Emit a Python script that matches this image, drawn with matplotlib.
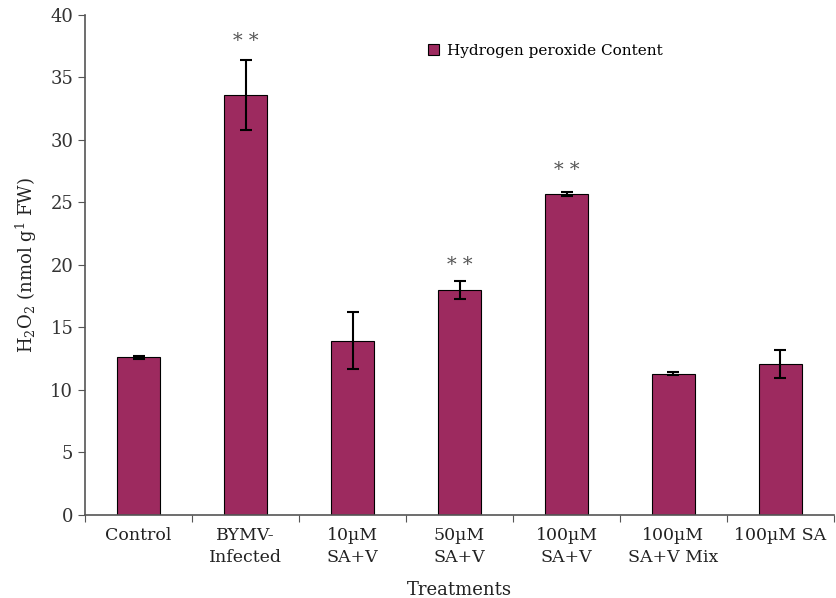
import numpy as np
import matplotlib.pyplot as plt

plt.rcParams['font.family'] = ['DejaVu Serif']
plt.rcParams['mathtext.fontset'] = 'dejavuserif'

categories = ["Control", "BYMV-\nInfected", "10\u00b5M\nSA+V", "50\u00b5M\nSA+V",
              "100\u00b5M\nSA+V", "100\u00b5M\nSA+V Mix", "100\u00b5M SA"]
h2o2 = [12.6, 33.6, 13.95, 18.0, 25.7, 11.28, 12.08]
err = [0.1, 2.8, 2.25, 0.75, 0.15, 0.12, 1.1]
stars = ["", "* *", "", "* *", "* *", "", ""]
star_y = [0, 37.9, 0, 20.0, 27.6, 0, 0]

bar_col = '#9D2A5F'
axis_col = '#555555'

fig = plt.figure(figsize=(8.36, 5.98), dpi=100)
ax = fig.add_axes([0.1017, 0.1388, 0.8959, 0.8362])

x = np.arange(len(categories))
ax.bar(x, h2o2, width=0.4, color=bar_col, edgecolor='black', linewidth=0.8,
       label='Hydrogen peroxide Content', zorder=2)
ax.errorbar(x, h2o2, yerr=err, fmt='none', ecolor='black', elinewidth=1.5,
            capsize=4, capthick=1.5, zorder=3)

for i, s in enumerate(stars):
    if s:
        ax.text(x[i], star_y[i], s, ha='center', va='center', fontsize=14,
                color='#555555')

ax.set_xlim(-0.5, len(categories) - 0.5)
ax.set_ylim(0, 40)
ax.set_yticks(np.arange(0, 41, 5))
ax.set_xticks(np.arange(-0.5, len(categories), 1.0))
ax.set_xticklabels([])
ax.set_xticks(x, minor=True)
ax.set_xticklabels(categories, minor=True, fontsize=12.5, color='#222222',
                   linespacing=1.35)
ax.tick_params(axis='x', which='minor', length=0, pad=9)
ax.tick_params(axis='x', which='major', direction='out', length=5, color=axis_col)
ax.tick_params(axis='y', direction='out', length=5, color=axis_col,
               labelsize=13, labelcolor='#333333')

for side in ['top', 'right']:
    ax.spines[side].set_visible(False)
for side in ['left', 'bottom']:
    ax.spines[side].set_color(axis_col)
    ax.spines[side].set_linewidth(1.2)

ax.set_ylabel('H$_2$O$_2$ (nmol g$^{1}$ FW)', fontsize=13, color='#222222',
              labelpad=8)
ax.set_xlabel('Treatments', fontsize=13, color='#222222', labelpad=11)

ax.legend(loc='upper left', bbox_to_anchor=(0.44, 0.97), frameon=False,
          fontsize=11, handlelength=0.7, handleheight=0.7, handletextpad=0.5)

fig.savefig('out.png', dpi=100)
